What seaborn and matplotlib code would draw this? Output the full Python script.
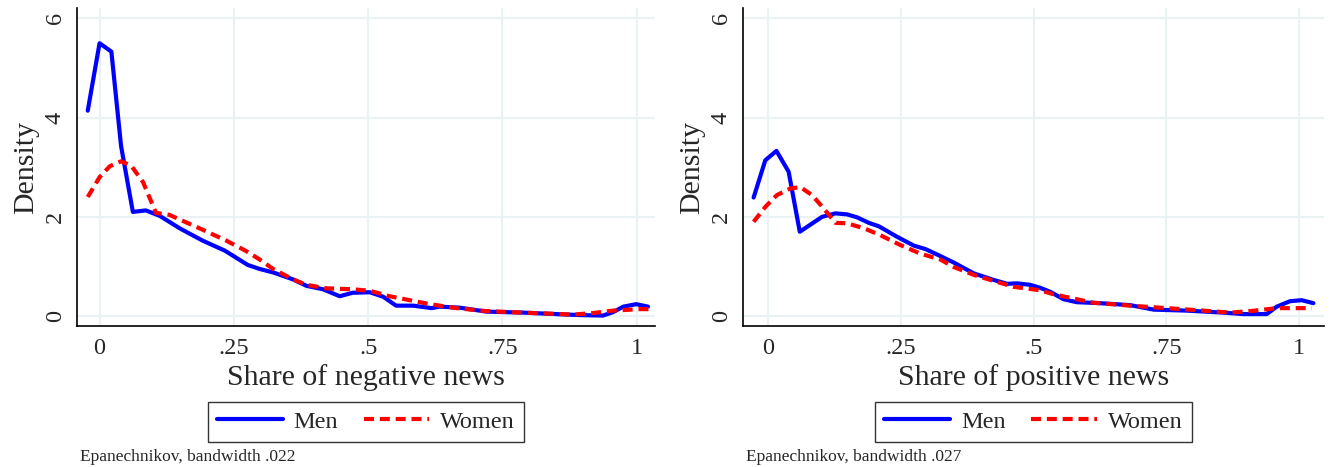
import matplotlib
matplotlib.use("Agg")
import matplotlib.pyplot as plt
import seaborn as sns
import pandas as pd
import numpy as np

# ---- data ----
neg_men_x = [-0.022, 0.0, 0.022, 0.04, 0.062, 0.086, 0.112, 0.149, 0.192, 0.233, 0.276, 0.298,
             0.323, 0.36, 0.385, 0.416, 0.447, 0.471, 0.503, 0.528, 0.552, 0.584, 0.618, 0.633,
             0.67, 0.72, 0.788, 0.85, 0.894, 0.937, 0.956, 0.975, 0.999, 1.021]
neg_men_y = [4.14, 5.50, 5.33, 3.43, 2.10, 2.13, 2.02, 1.77, 1.52, 1.32, 1.03, 0.95,
             0.88, 0.74, 0.61, 0.54, 0.40, 0.47, 0.48, 0.39, 0.21, 0.21, 0.16, 0.19,
             0.17, 0.09, 0.07, 0.04, 0.02, 0.01, 0.08, 0.19, 0.24, 0.19]

neg_women_x = [-0.022, 0.0, 0.019, 0.04, 0.059, 0.081, 0.105, 0.13, 0.161, 0.192, 0.236, 0.273,
               0.298, 0.323, 0.36, 0.385, 0.422, 0.472, 0.503, 0.54, 0.615, 0.664, 0.72, 0.788,
               0.881, 0.918, 0.956, 1.006, 1.022]
neg_women_y = [2.40, 2.80, 3.02, 3.12, 3.03, 2.70, 2.08, 2.04, 1.89, 1.74, 1.52, 1.31,
               1.14, 0.95, 0.74, 0.63, 0.56, 0.54, 0.51, 0.40, 0.24, 0.16, 0.10, 0.07,
               0.03, 0.06, 0.11, 0.14, 0.14]

pos_men_x = [-0.028, -0.006, 0.015, 0.038, 0.059, 0.101, 0.126, 0.148, 0.167, 0.189, 0.208, 0.242,
             0.274, 0.296, 0.324, 0.349, 0.387, 0.424, 0.45, 0.468, 0.493, 0.512, 0.531, 0.556,
             0.581, 0.625, 0.682, 0.726, 0.788, 0.857, 0.895, 0.939, 0.958, 0.983, 1.005, 1.027]
pos_men_y = [2.39, 3.14, 3.33, 2.91, 1.70, 2.00, 2.07, 2.05, 1.99, 1.88, 1.81, 1.60,
             1.42, 1.35, 1.21, 1.08, 0.86, 0.73, 0.65, 0.66, 0.63, 0.57, 0.49, 0.34,
             0.28, 0.26, 0.22, 0.13, 0.11, 0.07, 0.04, 0.04, 0.19, 0.30, 0.32, 0.26]

pos_women_x = [-0.028, -0.006, 0.016, 0.041, 0.06, 0.082, 0.104, 0.126, 0.148, 0.18, 0.211, 0.249,
               0.286, 0.324, 0.349, 0.387, 0.424, 0.462, 0.512, 0.537, 0.612, 0.682, 0.751, 0.807,
               0.87, 0.908, 0.958, 1.024]
pos_women_y = [1.90, 2.20, 2.44, 2.57, 2.60, 2.44, 2.17, 1.88, 1.87, 1.77, 1.63, 1.43,
               1.26, 1.14, 0.99, 0.83, 0.71, 0.59, 0.52, 0.44, 0.27, 0.21, 0.16, 0.12,
               0.07, 0.10, 0.16, 0.16]

groups = ["Men", "Women"]
x_ticks = [0, 0.25, 0.5, 0.75, 1]
x_tick_labels = ["0", ".25", ".5", ".75", "1"]
y_ticks = [0, 2, 4, 6]
y_tick_labels = ["0", "2", "4", "6"]
x_titles = ["Share of negative news", "Share of positive news"]
notes = ["Epanechnikov, bandwidth .022", "Epanechnikov, bandwidth .027"]

# ---- style ----
sns.set_style("white")
plt.rcParams["font.family"] = ["Liberation Serif", "DejaVu Serif"]

W, H = 1331, 467
fig = plt.figure(figsize=(W / 100, H / 100), dpi=100)

grid_col = "#eaf2f3"
palette = {"Men": "#0000ff", "Women": "#ff0000"}


def make_df(mx, my, wx, wy):
    return pd.concat([
        pd.DataFrame({"x": mx, "y": my, "group": groups[0]}),
        pd.DataFrame({"x": wx, "y": wy, "group": groups[1]}),
    ], ignore_index=True)


panels = [
    dict(df=make_df(neg_men_x, neg_men_y, neg_women_x, neg_women_y),
         px=(77, 655), xlim=(-0.042, 1.034)),
    dict(df=make_df(pos_men_x, pos_men_y, pos_women_x, pos_women_y),
         px=(743, 1324), xlim=(-0.048, 1.047)),
]

top_px, bot_px = 8, 326
for i, p in enumerate(panels):
    l, r = p["px"]
    ax = fig.add_axes([l / W, 1 - bot_px / H, (r - l) / W, (bot_px - top_px) / H])
    sns.lineplot(data=p["df"], x="x", y="y", hue="group", style="group",
                 palette=palette, dashes={"Men": "", "Women": (2.4, 1.4)},
                 linewidth=3.0, ax=ax, legend=True, estimator=None)
    ax.set_xlim(*p["xlim"])
    ax.set_ylim(-0.2, 6.21)
    ax.set_xticks(x_ticks)
    ax.set_xticklabels(x_tick_labels)
    ax.set_yticks(y_ticks)
    ax.set_yticklabels(y_tick_labels, rotation=90, va="center")
    ax.grid(True, color=grid_col, linewidth=1.5)
    ax.set_axisbelow(True)
    for s in ["top", "right"]:
        ax.spines[s].set_visible(False)
    for s in ["left", "bottom"]:
        ax.spines[s].set_color("black")
        ax.spines[s].set_linewidth(1.2)
    ax.tick_params(axis="both", direction="out", length=5, width=1.2,
                   color="#444444", labelsize=17.5, pad=4)
    ax.tick_params(axis="y", pad=3)
    ax.set_xlabel(x_titles[i], fontsize=21.5, labelpad=3)
    ax.set_ylabel("Density", fontsize=21.5, labelpad=4)
    handles, labels = ax.get_legend_handles_labels()
    leg = ax.legend(handles, labels, loc="upper center", bbox_to_anchor=(0.5, -0.238),
                    ncol=2, frameon=True, fancybox=False, edgecolor="black",
                    fontsize=17.5, handlelength=2.7, borderaxespad=0, columnspacing=1.05,
                    handletextpad=0.45, borderpad=0.38)
    leg.get_frame().set_linewidth(1.0)
    for h in leg.get_lines():
        h.set_linewidth(3.0)
    fig.text((l + 3) / W, 1 - 457 / H, notes[i], fontsize=12.5, va="center", ha="left")

fig.savefig("out.png", dpi=100, facecolor="white")
